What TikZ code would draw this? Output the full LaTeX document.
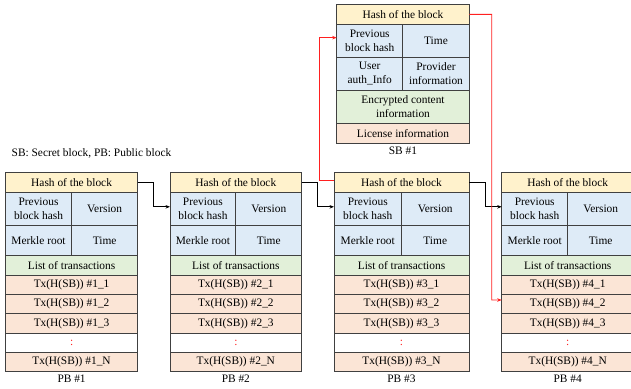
\documentclass[tikz,border=0pt]{standalone}
\usepackage{fontspec}
\setmainfont{Liberation Serif}
\usetikzlibrary{arrows.meta}
\definecolor{cy}{HTML}{FFF2CC}
\definecolor{cb}{HTML}{DEEBF7}
\definecolor{cg}{HTML}{E2F0D9}
\definecolor{co}{HTML}{FBE5D6}
\definecolor{bd}{HTML}{404040}
\definecolor{rl}{HTML}{FF2020}
\tikzset{
  cell/.style={draw=bd,line width=0.9pt,inner sep=0pt,outer sep=0pt,align=center,
    font=\fontsize{11.4}{13.7}\selectfont},
  lbl/.style={inner sep=0pt,font=\fontsize{11.4}{13.7}\selectfont},
  blk/.style={draw=black,line width=0.9pt,-{Stealth[length=4.5pt,width=3.5pt]}},
  red/.style={draw=rl,line width=0.9pt,-{Stealth[length=4.5pt,width=3.5pt]}}
}
\newcommand{\cell}[7]{\node[cell,fill=#6,minimum width={(#4)-(#2)},minimum height={(#5)-(#3)}] (#1) at ({((#2)+(#4))/2},{((#3)+(#5))/2}) {#7};}
\newcommand{\pbblock}[4]{%
  \pgfmathsetmacro\xm{((#2)+(#3))/2}%
  \cell{#1h}{#2}{172.3}{#3}{192.3}{cy}{Hash of the block}
  \cell{#1prev}{#2}{192.3}{\xm}{225.3}{cb}{Previous\\block hash}
  \cell{#1ver}{\xm}{192.3}{#3}{225.3}{cb}{Version}
  \cell{#1mr}{#2}{225.3}{\xm}{255.7}{cb}{Merkle root}
  \cell{#1tm}{\xm}{225.3}{#3}{255.7}{cb}{Time}
  \cell{#1list}{#2}{255.7}{#3}{275}{cg}{List of transactions}
  \cell{#1ta}{#2}{275}{#3}{294.3}{co}{Tx(H(SB)) \##4\_1}
  \cell{#1tb}{#2}{294.3}{#3}{313.7}{co}{Tx(H(SB)) \##4\_2}
  \cell{#1tc}{#2}{313.7}{#3}{333}{co}{Tx(H(SB)) \##4\_3}
  \cell{#1dots}{#2}{333}{#3}{352.3}{white}{\textcolor{rl}{:}}
  \cell{#1tn}{#2}{352.3}{#3}{371.7}{co}{Tx(H(SB)) \##4\_N}
  \node[lbl] (#1lab) at ({((#2)+(#3))/2},378.5) {PB \##4};
}
\begin{document}
\begin{tikzpicture}[x=1pt,y=-1pt]
\useasboundingbox[fill=white] (0,0) rectangle (631,388);
% secret block
\cell{sbh}{336.7}{4.7}{469.3}{24}{cy}{Hash of the block}
\cell{sbprev}{336.7}{24}{402.7}{57.3}{cb}{Previous\\block hash}
\cell{sbtime}{402.7}{24}{469.3}{57.3}{cb}{Time}
\cell{sbuser}{336.7}{57.3}{402.7}{90}{cb}{User\\auth\_Info}
\cell{sbprov}{402.7}{57.3}{469.3}{90}{cb}{Provider\\information}
\cell{sbenc}{336.7}{90}{469.3}{123.3}{cg}{Encrypted content\\information}
\cell{sblic}{336.7}{123.3}{469.3}{143.3}{co}{License information}
\node[lbl] (sblab) at (403,150.7) {SB \#1};
\node[lbl,anchor=west] (legend) at (11.5,153.5) {SB: Secret block, PB: Public block};
% public blocks
\pbblock{pa}{5.5}{137.7}{1}
\pbblock{pb}{170}{301.7}{2}
\pbblock{pc}{334}{469}{3}
\pbblock{pd}{501.7}{633.7}{4}
% chain arrows
\draw[blk] (pah.east) -- (153.8,182.3) |- ([yshift=2pt]pbprev.west);
\draw[blk] (pbh.east) -- (317.5,182.3) |- ([yshift=2pt]pcprev.west);
\draw[blk] (pch.east) -- (485.6,182.3) |- ([yshift=2pt]pdprev.west);
% secret links
\draw[red] ([yshift=2pt]pch.west) -- (319.3,180.3) |- ([yshift=3pt]sbprev.west);
\draw[red] (sbh.east) -- (491.7,14.3) |- ([yshift=4pt]pdtb.west);
\end{tikzpicture}
\end{document}
